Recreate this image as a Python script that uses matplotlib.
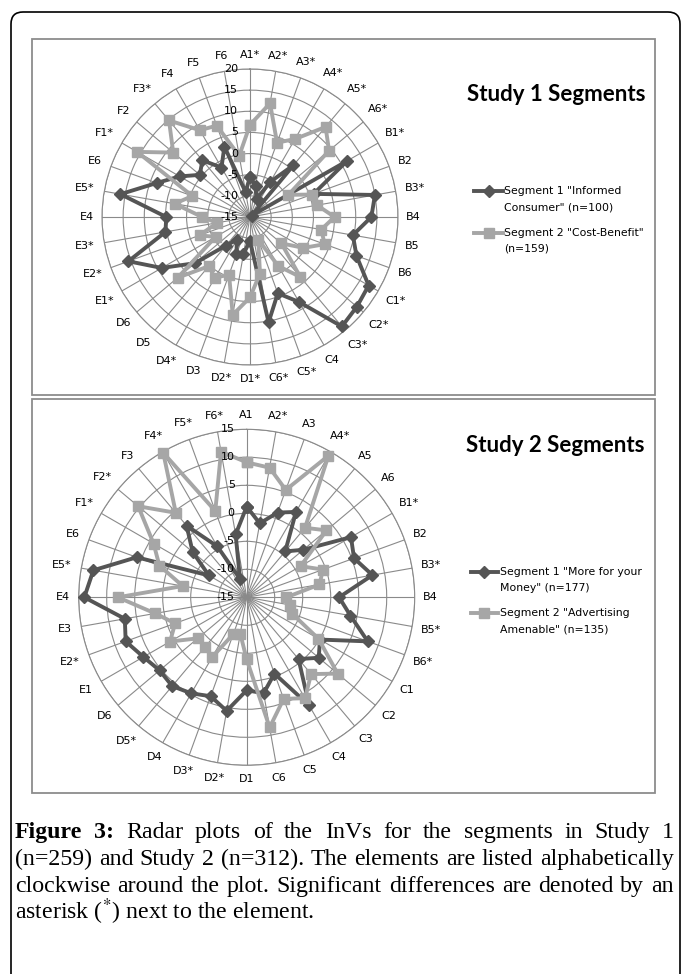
import matplotlib
matplotlib.use("Agg")
import matplotlib.pyplot as plt
import numpy as np
from matplotlib.patches import FancyBboxPatch, Rectangle
from matplotlib.lines import Line2D
from matplotlib.transforms import IdentityTransform

# ---------------- data ----------------
cats1 = ["A1*", "A2*", "A3*", "A4*", "A5*", "A6*", "B1*", "B2", "B3*", "B4", "B5", "B6",
         "C1*", "C2*", "C3*", "C4", "C5*", "C6*", "D1*", "D2*", "D3", "D4*", "D5", "D6",
         "E1*", "E2*", "E3*", "E4", "E5*", "E6", "F1*", "F2", "F3*", "F4", "F5", "F6"]
s1_seg1 = [-5.5, -7.5, -10.5, -5.4, 1.0, -14.5, 11.5, 1.0, 15.0, 13.7, 9.7, 11.8,
           17.4, 18.0, 18.8, 8.2, 4.2, 10.3, -9.4, -6.1, -5.6, -8.8, -6.2, 2.0,
           9.1, 15.6, 5.3, 4.8, 16.1, 8.5, 4.2, 0.5, 2.5, -1.5, 2.7, -9.0]
s1_seg2 = [6.8, 12.3, 3.7, 6.3, 12.8, 9.4, -4.5, 0.5, 1.1, 5.0, 2.1, 3.8,
           -0.4, -5.3, 3.5, -1.6, -9.3, -1.4, 4.0, 8.5, -0.5, 1.6, 0.2, 7.3,
           -5.6, -2.3, -7.1, -3.7, 3.1, -0.5, 15.8, 8.7, 14.8, 8.7, 8.0, -0.3]
s1_ticks = [-15, -10, -5, 0, 5, 10, 15, 20]
s1_title = "Study 1 Segments"
s1_legend = ['Segment 1 "Informed\nConsumer" (n=100)', 'Segment 2 "Cost-Benefit"\n(n=159)']

cats2 = ["A1", "A2*", "A3", "A4*", "A5", "A6", "B1*", "B2", "B3*", "B4", "B5*", "B6*",
         "C1", "C2", "C3", "C4", "C5", "C6", "D1", "D2*", "D3*", "D4", "D5*", "D6",
         "E1", "E2*", "E3", "E4", "E5*", "E6", "F1*", "F2*", "F3", "F4*", "F5*", "F6*"]
s2_seg1 = [1.2, -1.6, 1.1, 2.6, -4.3, -1.8, 6.5, 5.4, 7.8, 1.5, 3.8, 8.0,
           0.1, 1.8, -0.6, 7.3, -0.5, 2.4, 1.6, 5.6, 3.8, 4.8, 5.7, 5.3,
           6.3, 8.0, 7.1, 14.0, 12.8, 5.9, -7.2, -2.4, 1.7, -4.5, -11.5, -3.6]
s2_seg2 = [9.1, 8.5, 5.4, 14.2, 1.2, 3.6, -3.9, -0.5, -1.8, -7.9, -7.2, -6.3,
           -0.2, 6.2, 2.9, 5.8, 4.3, 8.6, -3.9, -8.4, -8.0, -2.7, -3.4, -3.6,
           0.8, -1.4, 1.6, 8.0, -3.4, 1.6, 4.2, 10.3, 4.7, 14.8, 1.4, 11.4]
s2_ticks = [-15, -10, -5, 0, 5, 10, 15]
s2_title = "Study 2 Segments"
s2_legend = ['Segment 1 "More for your\nMoney" (n=177)', 'Segment 2 "Advertising\nAmenable" (n=135)']

caption_lines = [
    [("Figure", True), ("3:", True), ("Radar", False), ("plots", False), ("of", False), ("the", False),
     ("InVs", False), ("for", False), ("the", False), ("segments", False), ("in", False),
     ("Study", False), ("1", False)],
    [(w, False) for w in "(n=259) and Study 2 (n=312). The elements are listed alphabetically".split()],
    [(w, False) for w in "clockwise around the plot. Significant differences are denoted by an".split()],
]
caption_last = r"asterisk ($^{*}$) next to the element."

# ---------------- figure ----------------
W, H = 683, 974
fig = plt.figure(figsize=(W / 100, H / 100), dpi=100)
fig.patch.set_facecolor("white")
plt.rcParams["mathtext.fontset"] = "stix"

DARK = "#555555"
LIGHT = "#a6a6a6"
GRID = "#8a8a8a"


def px_rect(x0, y0, x1, y1):
    return [x0 / W, 1 - y1 / H, (x1 - x0) / W, (y1 - y0) / H]


# outer rounded box (pixel coordinates, y upward)
outer = FancyBboxPatch((11, H - 1010), 669, 1010 - 12,
                       boxstyle="round,pad=0,rounding_size=12",
                       transform=IdentityTransform(), fill=False, ec="black", lw=1.2)
fig.patches.append(outer)

for (x0, y0, x1, y1) in [(32, 39, 655, 395), (32, 399, 655, 793)]:
    r = Rectangle((x0, H - y1), x1 - x0, y1 - y0, transform=IdentityTransform(),
                  fill=False, ec="#8c8c8c", lw=1.3)
    fig.patches.append(r)


def radar(cx, cy, R, cats, seg1, seg2, ticks):
    ax = fig.add_axes(px_rect(cx - R, cy - R, cx + R, cy + R), projection="polar")
    ax.set_theta_zero_location("N")
    ax.set_theta_direction(-1)
    rmin, rmax = ticks[0], ticks[-1]
    ax.set_ylim(rmin, rmax)
    n = len(cats)
    theta = np.arange(n) * 2 * np.pi / n
    ax.set_xticks(theta)
    ax.set_xticklabels([])
    ax.set_yticks(ticks)
    ax.set_yticklabels([])
    ax.grid(True, color=GRID, lw=0.8)
    ax.spines["polar"].set_color(GRID)
    ax.spines["polar"].set_linewidth(0.8)
    ax.set_facecolor("none")
    ppu = R / (rmax - rmin)
    th = np.append(theta, theta[0])
    v1 = np.append(seg1, seg1[0])
    v2 = np.append(seg2, seg2[0])
    ax.plot(th, v1, color=DARK, lw=2.8, marker="D", ms=6.5, mfc=DARK, mec=DARK, zorder=3, clip_on=False)
    ax.plot(th, v2, color=LIGHT, lw=2.8, marker="s", ms=7.5, mfc=LIGHT, mec=LIGHT, zorder=4, clip_on=False)
    # category labels
    for t, c in zip(theta, cats):
        s, co = np.sin(t), np.cos(t)
        wpx = 6.5 * len(c)
        off = 9 + 0.5 * (wpx * abs(s) + 10 * abs(co))
        ax.text(t, rmax + off / ppu, c, ha="center", va="center", fontsize=8,
                family="DejaVu Sans", color="black")
    # radial labels
    for v in ticks:
        fig.text((cx - 12) / W, 1 - (cy - (v - rmin) * ppu) / H, str(v), ha="right",
                 va="center", fontsize=8, family="DejaVu Sans", color="black")
    return ax


radar(250, 217, 148, cats1, s1_seg1, s1_seg2, s1_ticks)
radar(246.7, 597.3, 168, cats2, s2_seg1, s2_seg2, s2_ticks)

# titles
fig.text(556 / W, 1 - 101 / H, s1_title, ha="center", va="baseline", fontsize=16,
         family="Lato", weight="bold")
fig.text(555 / W, 1 - 452 / H, s2_title, ha="center", va="baseline", fontsize=16,
         family="Lato", weight="bold")


def legend(xl0, xl1, xt, ys, labels):
    for (y1, y2), lab, (col, mk, ms) in zip(ys, labels, [(DARK, "D", 6), (LIGHT, "s", 7)]):
        ln = Line2D([xl0 / W, xl1 / W], [1 - y1 / H, 1 - y1 / H], transform=fig.transFigure,
                    color=col, lw=2.8)
        fig.lines.append(ln)
        mkl = Line2D([(xl0 + xl1) / 2 / W], [1 - y1 / H], transform=fig.transFigure,
                     color=col, marker=mk, ms=ms, mfc=col, mec=col, lw=0)
        fig.lines.append(mkl)
        l1, l2 = lab.split("\n")
        fig.text(xt / W, 1 - y1 / H, l1, ha="left", va="center", fontsize=7.8, family="DejaVu Sans")
        fig.text(xt / W, 1 - y2 / H, l2, ha="left", va="center", fontsize=7.8, family="DejaVu Sans")


legend(474, 503, 504, [(190.5, 207.5), (232.5, 248.5)], s1_legend)
legend(470.5, 498, 500, [(572, 588), (612.5, 629)], s2_legend)

# caption (justified)
renderer = fig.canvas.get_renderer()
CAP_FAM = "Liberation Serif"
x0c, x1c = 15, 674
# choose font size so that the tightest line fits the column with normal spacing
probe = fig.text(0, 0, " ".join(w for w, _ in caption_lines[1]), fontsize=10, family=CAP_FAM)
pw = probe.get_window_extent(renderer).width
probe.remove()
CAP_FS = 10 * (x1c - x0c - 4) / pw
baselines = [838, 865, 892, 919]
for line, yb in zip(caption_lines, baselines[:3]):
    objs = []
    for w, b in line:
        t = fig.text(0, 1 - yb / H, w, ha="left", va="baseline", fontsize=CAP_FS,
                     family=CAP_FAM, weight="bold" if b else "normal")
        objs.append(t)
    widths = [o.get_window_extent(renderer).width for o in objs]
    gap = (x1c - x0c - sum(widths)) / (len(objs) - 1)
    x = x0c
    for o, wd in zip(objs, widths):
        o.set_x(x / W)
        x += wd + gap
fig.text(x0c / W, 1 - baselines[3] / H, caption_last, ha="left", va="baseline",
         fontsize=CAP_FS, family=CAP_FAM)

fig.savefig("out.png", dpi=100, facecolor="white")
